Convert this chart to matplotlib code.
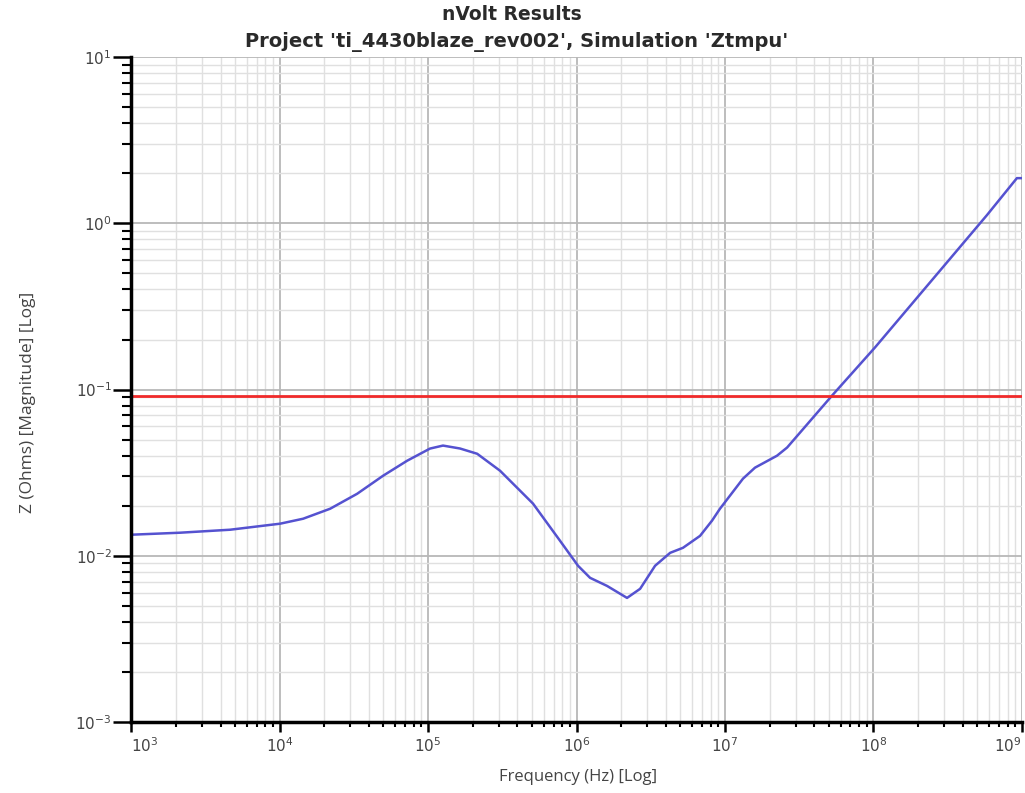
import matplotlib
matplotlib.use("Agg")
import matplotlib.pyplot as plt
import numpy as np
from matplotlib.ticker import LogLocator, NullFormatter

# impedance curve (Hz, Ohms)
freq_hz = [1.0e3, 2.14e3, 4.64e3, 1.007e4, 1.439e4, 2.188e4, 3.327e4, 4.98e4,
           7.23e4, 1.03e5, 1.26e5, 1.64e5, 2.14e5, 3.05e5, 5.09e5, 5.68e5,
           7.74e5, 1.023e6, 1.233e6, 1.604e6, 2.188e6, 2.68e6, 3.38e6, 4.27e6,
           5.21e6, 6.79e6, 8.17e6, 9.25e6, 1.321e7, 1.592e7, 2.24e7, 2.62e7,
           5.26e7, 1.023e8, 5.81e8, 9.25e8, 1.0e9]
z_ohms = [0.01339, 0.01377, 0.01435, 0.01560, 0.01671, 0.01919, 0.02361, 0.03033,
          0.03733, 0.04416, 0.04603, 0.0442, 0.0411, 0.0325, 0.0206, 0.0180,
          0.01231, 0.00871, 0.00737, 0.00659, 0.00558, 0.00633, 0.00871, 0.01042,
          0.01117, 0.01318, 0.01626, 0.0192, 0.0291, 0.0339, 0.0400, 0.0448,
          0.0920, 0.179, 1.12, 1.87, 1.87]
z_target = 0.092

x_ticks = [1e3, 1e4, 1e5, 1e6, 1e7, 1e8, 1e9]
y_ticks = [1e-3, 1e-2, 1e-1, 1e0, 1e1]

title_main = "nVolt Results"
title_sub = "Project 'ti_4430blaze_rev002', Simulation 'Ztmpu'"
x_label = "Frequency (Hz) [Log]"
y_label = "Z (Ohms) [Magnitude] [Log]"

fig = plt.figure(figsize=(10.25, 7.93), dpi=100)
ax = fig.add_axes((0.128, 0.0895, 0.869, 0.8385))

ax.set_xscale("log")
ax.set_yscale("log")
ax.set_xlim(1e3, 1e9)
ax.set_ylim(1e-3, 1e1)

ax.grid(True, which="major", color="#b8b8b8", linewidth=1.3)
ax.grid(True, which="minor", color="#e0e0e0", linewidth=1.0)
ax.set_axisbelow(True)

ax.plot(freq_hz, z_ohms, color="#5552d0", linewidth=1.8)
ax.axhline(z_target, color="#f02a2a", linewidth=2.0)

for side in ("top", "right"):
    ax.spines[side].set_visible(False)
for side in ("left", "bottom"):
    ax.spines[side].set_linewidth(2.5)
    ax.spines[side].set_color("black")

ax.set_xticks(x_ticks)
ax.set_yticks(y_ticks)
ax.xaxis.set_minor_locator(LogLocator(base=10, subs=np.arange(2, 10), numticks=20))
ax.yaxis.set_minor_locator(LogLocator(base=10, subs=np.arange(2, 10), numticks=20))
ax.xaxis.set_minor_formatter(NullFormatter())
ax.yaxis.set_minor_formatter(NullFormatter())

ax.tick_params(axis="y", which="major", length=13, width=1.8, pad=1,
               labelsize=11, labelcolor="#444444")
ax.tick_params(axis="y", which="minor", length=6.5, width=1.5)
ax.tick_params(axis="x", which="major", length=7, width=1.8, pad=3,
               labelsize=11, labelcolor="#444444")
ax.tick_params(axis="x", which="minor", length=3.5, width=1.5)

# keep the end labels inside the figure, like the original
xlabels = ax.get_xticklabels()
xlabels[0].set_horizontalalignment("left")
xlabels[-1].set_horizontalalignment("right")

fig.text(0.564, 0.020, x_label, ha="center", va="center",
         fontsize=12, family="Open Sans", color="#444444")
fig.text(0.027, 0.492, y_label, ha="center", va="center", rotation=90,
         fontsize=12.5, family="Open Sans", color="#444444")

fig.text(0.499, 0.982, title_main, ha="center", va="center",
         fontsize=13.5, fontweight="bold", family="DejaVu Sans", color="#2a2a2a")
fig.text(0.504, 0.947, title_sub, ha="center", va="center",
         fontsize=14, fontweight="bold", family="DejaVu Sans", color="#2a2a2a")

fig.savefig("out.png", dpi=100)
